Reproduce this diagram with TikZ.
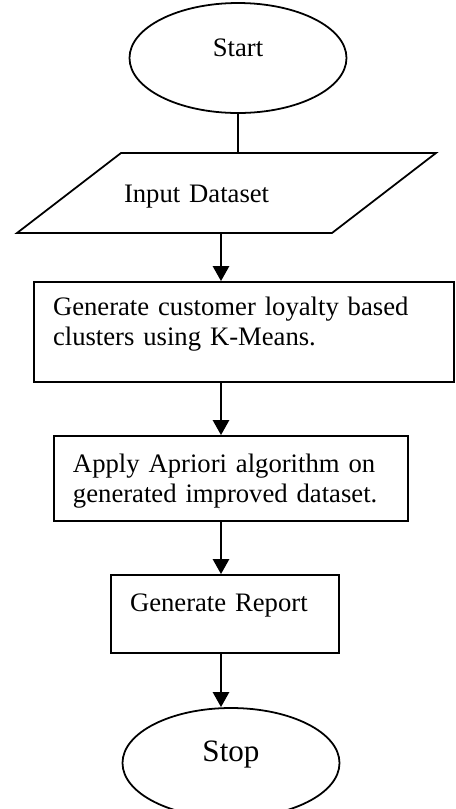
\documentclass[tikz,border=0pt]{standalone}
\usepackage{fontspec}
\setmainfont{Liberation Serif}
\usetikzlibrary{arrows.meta, shapes.geometric}

\begin{document}
\begin{tikzpicture}[x=0.45pt, y=-0.45pt,
    every node/.style={font=\fontsize{12}{13.8}\selectfont},
    term/.style={draw, ellipse, line width=0.8pt, inner sep=0pt,
        minimum width=217*\px, minimum height=110*\px},
    io/.style={draw, trapezium, trapezium left angle=37.57,
        trapezium right angle=142.43, line width=0.8pt, align=left,
        inner xsep=3*\px, inner ysep=0pt},
    proc/.style={draw, rectangle, line width=0.8pt, align=left,
        inner xsep=19*\px, inner ysep=0pt},
    link/.style={line width=1.2pt},
    arr/.style={link, -{Triangle[length=6.75pt, width=7.2pt]}}]
    \def\px{0.45pt}
    \useasboundingbox (0,0) rectangle (456,809);

    % Terminals
    \node[term, text height=18*\px, text depth=21*\px] (start) at (238,58) {Start};
    \node[term, font=\fontsize{14}{16}\selectfont, text height=21*\px, text depth=24*\px]
        (stop) at (231,763) {Stop};

    % Input
    \node[io, text width=205*\px, text height=49*\px, text depth=31*\px]
        (indata) at (226.5,193) {Input Dataset};

    % Process boxes
    \node[proc, text width=382*\px, text height=33*\px, text depth=67*\px]
        (gen) at (244,332) {Generate customer loyalty based\\clusters using K-Means.};
    \node[proc, text width=316*\px, text height=36*\px, text depth=49*\px]
        (apriori) at (231,478.5) {Apply Apriori algorithm on\\generated improved dataset.};
    \node[proc, text width=190*\px, text height=36*\px, text depth=42*\px]
        (report) at (225,614) {Generate Report};

    % Connectors
    \coordinate (spine) at (221,0);
    \draw[link] (start.south) -- (start.south |- indata.north);
    \draw[arr] (indata.south -| spine) -- (gen.north -| spine);
    \draw[arr] (gen.south -| spine) -- (apriori.north -| spine);
    \draw[arr] (apriori.south -| spine) -- (report.north -| spine);
    \draw[arr] (report.south -| spine) -- (stop.north -| spine);
\end{tikzpicture}
\end{document}
